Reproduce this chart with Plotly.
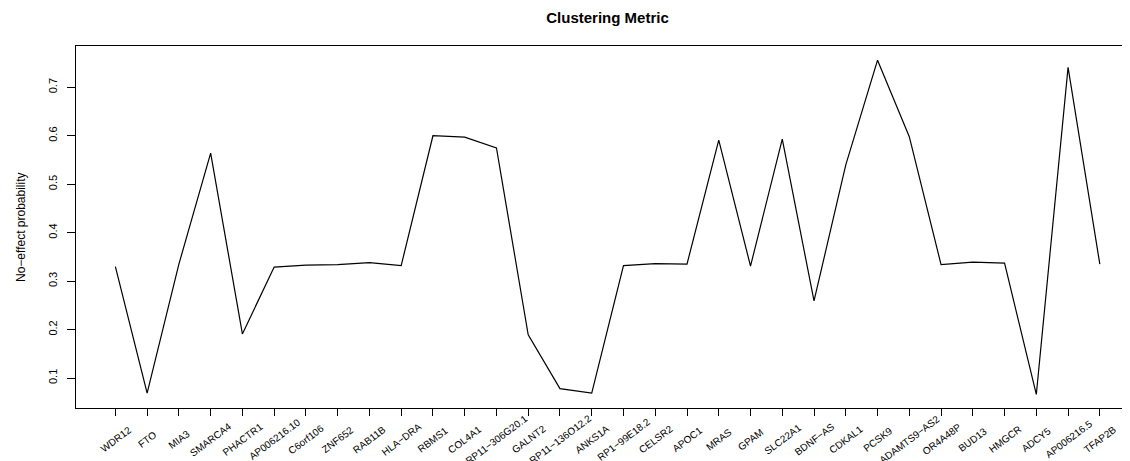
import plotly.graph_objects as go

genes = ["WDR12", "FTO", "MIA3", "SMARCA4", "PHACTR1", "AP006216.10", "C6orf106",
         "ZNF652", "RAB11B", "HLA−DRA", "RBMS1", "COL4A1", "RP11−306G20.1", "GALNT2",
         "RP11−136O12.2", "ANKS1A", "RP1−99E18.2", "CELSR2", "APOC1", "MRAS", "GPAM",
         "SLC22A1", "BDNF−AS", "CDKAL1", "PCSK9", "ADAMTS9−AS2", "OR4A48P", "BUD13",
         "HMGCR", "ADCY5", "AP006216.5", "TFAP2B"]

no_effect_prob = [0.330, 0.069, 0.335, 0.564, 0.191, 0.329, 0.333, 0.334, 0.338, 0.332,
                  0.600, 0.597, 0.575, 0.189, 0.078, 0.069, 0.332, 0.336, 0.335, 0.591,
                  0.331, 0.593, 0.259, 0.540, 0.756, 0.598, 0.334, 0.339, 0.337, 0.066,
                  0.741, 0.335]

y_ticks = [0.1, 0.2, 0.3, 0.4, 0.5, 0.6, 0.7]
y_tick_labels = ["0.1", "0.2", "0.3", "0.4", "0.5", "0.6", "0.7"]

title_text = "Clustering Metric"
y_title = "No−effect probability"

FONT = "Liberation Sans, Arial, Helvetica, sans-serif"
# page has an 8px body margin; figure sized/offset to compensate
W, H = 1122, 453
L, T, B = 68, 38, 53

fig = go.Figure()
fig.add_trace(go.Scatter(x=genes, y=no_effect_prob, mode="lines",
                         line=dict(color="black", width=1.2), showlegend=False,
                         hoverinfo="x+y"))

# rotated, centred category labels below the axis (R text(srt=...) style)
for g in genes:
    fig.add_annotation(x=g, y=0, xref="x", yref="paper", yshift=-31,
                       text=g, showarrow=False, textangle=-37,
                       xanchor="center", yanchor="middle",
                       font=dict(family=FONT, size=10, color="black"))

# y-axis title
fig.add_annotation(x=(13 - L) / (W - L), y=0.5, xref="paper", yref="paper",
                   text=y_title, showarrow=False, textangle=-90,
                   xanchor="center", yanchor="middle",
                   font=dict(family=FONT, size=12, color="black"))

fig.update_layout(
    width=W, height=H,
    margin=dict(l=L, r=0, t=T, b=B, pad=0),
    paper_bgcolor="white", plot_bgcolor="white",
    font=dict(family=FONT, color="black"),
    title=dict(text="<b>" + title_text + "</b>", x=599.5 / W, xanchor="center",
               xref="container", y=1 - 9.5 / H, yanchor="middle", yref="container",
               font=dict(family=FONT, size=15, color="black")),
    xaxis=dict(type="category", range=[-1.24, 31.95], showgrid=False, zeroline=False,
               showline=True, linecolor="black", linewidth=1, mirror=True,
               ticks="outside", ticklen=7, tickcolor="black", tickwidth=1,
               showticklabels=False, fixedrange=True),
    yaxis=dict(range=[0.0381, 0.7852], showgrid=False, zeroline=False,
               showline=True, linecolor="black", linewidth=1, mirror=False,
               ticks="outside", ticklen=8, tickcolor="black", tickwidth=1,
               tickvals=y_ticks, ticktext=y_tick_labels, tickangle=-90,
               tickfont=dict(family=FONT, size=11, color="black"),
               ticklabelstandoff=6, fixedrange=True),
)

fig.write_html("out.html")
